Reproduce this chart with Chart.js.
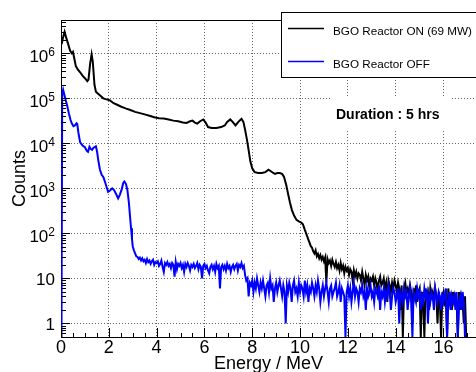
<!DOCTYPE html>
<html>
<head>
<meta charset="utf-8">
<script src="https://cdn.jsdelivr.net/npm/chart.js@4.4.0/dist/chart.umd.min.js"></script>
<style>
  html, body { margin: 0; padding: 0; background: #fff; }
</style>
</head>
<body>
<canvas id="spectrum" width="476" height="372"></canvas>
<script>
// histogram bin width used for the noisy tails
const binWidth = 0.05

// BGO Reactor ON (69 MW) - smooth part
const onEnergy = [0.03, 0.08, 0.15, 0.22, 0.30, 0.38, 0.45, 0.50, 0.55, 0.62, 0.70, 0.80, 0.90, 1.00, 1.10, 1.15, 1.22, 1.28, 1.33, 1.40, 1.46,
  1.60, 1.77, 1.90, 2.05, 2.20, 2.35, 2.50, 2.70, 2.90, 3.10, 3.30, 3.50, 3.70, 3.90, 4.10, 4.30, 4.50, 4.70, 4.90, 5.10, 5.25,
  5.40, 5.50, 5.60, 5.70, 5.82, 5.95, 6.05, 6.15, 6.30, 6.50, 6.70, 6.85, 6.95, 7.08, 7.18, 7.30, 7.42, 7.55, 7.63, 7.70, 7.78,
  7.85, 7.92, 8.00, 8.10, 8.25, 8.40, 8.55, 8.68, 8.78, 8.88, 8.95, 9.05, 9.15, 9.25, 9.33, 9.42, 9.50, 9.58, 9.66, 9.75, 9.85,
  9.95, 10.05, 10.12, 10.20, 10.28, 10.36, 10.45]
const onCounts = [1.6e6, 2.2e6, 3.0e6, 2.2e6, 1.6e6, 1.15e6, 1.0e6, 1.08e6, 8e5, 5.2e5, 4.4e5, 3.8e5, 3.2e5, 2.8e5, 2.4e5, 2.6e5, 6e5, 9.5e5, 6.5e5, 2e5, 1.4e5,
  1.2e5, 1.0e5, 9.5e4, 9e4, 7.8e4, 7.2e4, 6.6e4, 6.0e4, 5.5e4, 5.0e4, 4.7e4, 4.4e4, 4.1e4, 3.8e4, 3.6e4, 3.55e4, 3.4e4, 3.2e4, 3.1e4, 2.9e4, 2.85e4,
  3.1e4, 3.2e4, 2.9e4, 2.75e4, 3.1e4, 3.4e4, 2.9e4, 2.3e4, 2.2e4, 2.2e4, 2.3e4, 2.5e4, 3.0e4, 3.4e4, 3.0e4, 2.5e4, 3.0e4, 3.5e4, 3.0e4, 2.0e4, 1.2e4,
  7e3, 4e3, 2.8e3, 2.3e3, 2.2e3, 2.2e3, 2.3e3, 2.6e3, 2.4e3, 2.2e3, 2.1e3, 2.2e3, 2.2e3, 2.1e3, 1.8e3, 1.2e3, 750, 480, 330, 250, 200,
  185, 175, 160, 120, 92, 70, 52]

// BGO Reactor ON - noisy tail, bins from 10.50 MeV
const onTailStart = 10.5
const onTailCounts = [
  48, 40, 36, 42, 31, 35, 28, 33, 26, 30,
  24, 29, 8, 27, 22, 25, 19, 26, 21, 18,
  23, 17, 20, 15, 22, 16, 19, 13, 18, 15,
  17, 12, 16, 14, 9, 15, 11, 14, 10, 13,
  12, 9, 14, 10, 7, 12, 9, 11, 6, 10,
  9, 11, 7, 10, 8, 5, 9, 11, 7, 8,
  10, 6, 8, 3, 9, 7, 5, 8, 6, 9,
  7, 5, 8, 6, 2, 7, 0, 6, 8, 5,
  6, 4, 7, 5, 1, 6, 4, 7, 3, 5,
  6, 0, 5, 3, 0, 6, 4, 5, 2, 6,
  4, 5, 3, 6, 4, 1, 5, 3, 0, 4,
  5, 3, 4, 0, 6, 3, 4, 2, 5, 3,
  4, 3, 0, 5, 2, 4, 3, 1, 4, 0]

// BGO Reactor OFF - smooth part
const offEnergy = [0.02, 0.05, 0.09, 0.14, 0.20, 0.25, 0.33, 0.40, 0.45, 0.52, 0.58, 0.65, 0.68, 0.73, 0.80, 0.90, 1.00, 1.08, 1.13, 1.19,
  1.24, 1.30, 1.36, 1.46, 1.51, 1.56, 1.63, 1.70, 1.77, 1.84, 1.90, 1.97, 2.05, 2.14, 2.22, 2.30, 2.39, 2.46, 2.54, 2.60,
  2.65, 2.72, 2.78, 2.84, 2.89, 2.93, 2.97]
const offCounts = [0, 1.2e5, 1.55e5, 1.2e5, 9e4, 7.2e4, 4.6e4, 3.3e4, 2.8e4, 2.4e4, 2.5e4, 2.8e4, 2.7e4, 1.7e4, 1.05e4, 9e3, 8.2e3, 6.8e3, 6.5e3, 8.4e3,
  7.6e3, 7.2e3, 8.0e3, 8.6e3, 6.5e3, 4.2e3, 2.6e3, 2.0e3, 1.8e3, 1.4e3, 1.1e3, 840, 900, 1000, 920, 760, 600, 720, 950, 1300,
  1420, 1250, 900, 480, 230, 130, 75]

// BGO Reactor OFF - noisy tail, bins from 3.00 MeV
const offTailStart = 3.0
const offTailCounts = [
  52, 42, 36, 31, 30, 27, 29, 25, 28, 24,
  26, 22, 27, 23, 25, 21, 24, 26, 20, 23, 22,
  24, 19, 21, 25, 18, 14, 22, 20, 23, 19,
  21, 17, 22, 20, 11, 23, 16, 21, 19, 22,
  17, 20, 14, 21, 18, 22, 19, 15, 20, 18,
  21, 17, 19, 22, 16, 20, 18, 10, 19, 21,
  17, 19, 15, 13, 18, 20, 16, 19, 14, 21,
  17, 19, 6, 18, 20, 16, 19, 15, 21, 17,
  19, 14, 18, 20, 16, 19, 21, 15, 20, 18,
  22, 17, 19, 12, 9, 10, 4, 8,
  7, 9, 5, 8, 6, 10, 7, 5, 8, 6,
  9, 6, 4, 7, 8, 5, 10, 6, 7, 3,
  6, 8, 5, 7, 9, 6, 4, 7, 5, 1,
  7, 5, 8, 6, 3, 7, 9, 5, 6, 4,
  8, 5, 7, 6, 4, 9, 5, 7, 3, 6,
  5, 8, 6, 4, 7, 5, 9, 6, 3, 5,
  7, 4, 6, 8, 5, 3, 6, 7, 4, 5,
  6, 8, 4, 5, 7, 3, 6, 5, 4, 0,
  5, 7, 4, 6, 3, 5, 8, 4, 6, 5,
  3, 6, 5, 7, 4, 5, 2, 6, 4, 5,
  7, 4, 5, 3, 6, 5, 4, 7, 2, 5,
  4, 6, 3, 5, 4, 7, 5, 2, 4, 6,
  5, 3, 4, 6, 1, 5, 4, 3, 6, 4,
  5, 2, 4, 6, 3, 0, 5, 4, 3, 6,
  4, 5, 2, 4, 3, 6, 4, 5, 1, 4,
  3, 5, 4, 2, 6, 4, 3, 5, 4, 2,
  5, 3, 4, 6, 0, 3, 5, 2, 4, 3,
  4, 2, 5, 0, 3, 4, 2, 5, 3, 0]

const xTicks = [0, 2, 4, 6, 8, 10, 12, 14, 16]
const yTicks = [1, 10, 100, 1e3, 1e4, 1e5, 1e6]
const yTickLabels = ['1', '10', '10^2', '10^3', '10^4', '10^5', '10^6']

const xMin = 0
const xMax = 17.36
const yMin = 0.5
const yMax = 5.5e6

// zero-count bins sit on the bottom of the frame, like ROOT draws them
const toPoints = (energies, counts, tailStart, tailCounts) => [
  ...energies.map((e, i) => ({ x: e, y: counts[i] || yMin })),
  ...tailCounts.map((c, i) => ({ x: +(tailStart + i * binWidth).toFixed(2), y: c || yMin }))
]

const fontFamily = '"Liberation Sans", Arial, Helvetica, sans-serif'
Chart.defaults.font.family = fontFamily
Chart.defaults.color = '#000'

const rootFrame = {
  id: 'rootFrame',
  afterDraw(chart) {
    const { ctx, chartArea: area, scales: { x, y } } = chart
    ctx.save()
    ctx.strokeStyle = '#000'
    ctx.lineWidth = 1
    ctx.beginPath()
    ctx.moveTo(area.left, area.top + 0.5)
    ctx.lineTo(area.right, area.top + 0.5)
    // x ticks, inside the frame
    for (let i = 0; i * 0.5 <= xMax; i++) {
      const px = Math.round(x.getPixelForValue(i * 0.5)) + 0.5
      ctx.moveTo(px, area.bottom)
      ctx.lineTo(px, area.bottom - (i % 4 === 0 ? 9 : 4))
    }
    // y log ticks
    for (let decade = 0.1; decade < yMax; decade *= 10) {
      for (let k = 1; k < 10; k++) {
        const v = k * decade
        if (v < yMin || v > yMax) continue
        const py = Math.round(y.getPixelForValue(v)) + 0.5
        ctx.moveTo(area.left, py)
        ctx.lineTo(area.left + (k === 1 ? 9 : 5), py)
      }
    }
    ctx.stroke()

    // y tick labels with real superscripts
    ctx.fillStyle = '#000'
    ctx.textBaseline = 'alphabetic'
    ctx.textAlign = 'left'
    yTicks.forEach((v, i) => {
      const py = y.getPixelForValue(v)
      const [base, sup] = yTickLabels[i].split('^')
      ctx.font = `17px ${fontFamily}`
      const baseW = ctx.measureText(base).width
      let supW = 0
      if (sup) {
        ctx.font = `12px ${fontFamily}`
        supW = ctx.measureText(sup).width
      }
      const right = area.left - 6
      const baseY = py + (sup ? 9 : 7)
      ctx.font = `17px ${fontFamily}`
      ctx.fillText(base, right - supW - baseW, baseY)
      if (sup) {
        ctx.font = `12px ${fontFamily}`
        ctx.fillText(sup, right - supW, baseY - 6)
      }
    })

    // "Duration" pave
    ctx.fillStyle = '#fff'
    ctx.fillRect(330, 98, 122, 33)
    ctx.fillStyle = '#000'
    ctx.font = `bold 14px ${fontFamily}`
    ctx.textBaseline = 'middle'
    ctx.fillText('Duration : 5 hrs', 336, 115)

    // legend box
    ctx.fillStyle = '#fff'
    ctx.fillRect(281, 12, 200, 66)
    ctx.strokeStyle = '#000'
    ctx.strokeRect(281.5, 12.5, 200, 65)
    ctx.lineWidth = 1.5
    ctx.beginPath()
    ctx.moveTo(288, 28.5)
    ctx.lineTo(324, 28.5)
    ctx.stroke()
    ctx.beginPath()
    ctx.strokeStyle = '#0000ff'
    ctx.moveTo(288, 61.5)
    ctx.lineTo(324, 61.5)
    ctx.stroke()
    ctx.fillStyle = '#000'
    ctx.font = `11.7px ${fontFamily}`
    ctx.fillText('BGO Reactor ON (69 MW)', 333, 31.5)
    ctx.fillText('BGO Reactor OFF', 333, 64.5)
    ctx.restore()
  }
}

const chartCanvas = document.getElementById('spectrum')

new Chart(chartCanvas, {
  type: 'line',
  data: {
    datasets: [
      {
        label: 'BGO Reactor OFF',
        data: toPoints(offEnergy, offCounts, offTailStart, offTailCounts),
        borderColor: '#0000ff',
        borderWidth: 2,
        order: 0
      },
      {
        label: 'BGO Reactor ON (69 MW)',
        data: toPoints(onEnergy, onCounts, onTailStart, onTailCounts),
        borderColor: '#000000',
        borderWidth: 2,
        order: 1
      }
    ]
  },
  options: {
    responsive: false,
    animation: false,
    layout: { padding: { top: 20, left: 0, right: 0, bottom: 0 } },
    elements: {
      point: { radius: 0 },
      line: { tension: 0, fill: false }
    },
    plugins: {
      legend: { display: false },
      tooltip: { enabled: false }
    },
    scales: {
      x: {
        type: 'linear',
        min: xMin,
        max: xMax,
        afterBuildTicks: (scale) => { scale.ticks = xTicks.map(v => ({ value: v })) },
        afterFit: (scale) => { scale.height = 35 },
        ticks: {
          includeBounds: false,
          maxRotation: 0,
          autoSkip: false,
          padding: 0,
          font: { size: 18 },
          callback: (value) => String(value)
        },
        grid: { color: '#666', lineWidth: 1, drawTicks: false },
        border: { display: true, color: '#000', width: 1, dash: [1, 2] },
        title: {
          display: true,
          text: 'Energy / MeV',
          font: { size: 18, lineHeight: 1 },
          padding: { top: 0, bottom: -1 }
        }
      },
      y: {
        type: 'logarithmic',
        min: yMin,
        max: yMax,
        afterBuildTicks: (scale) => { scale.ticks = yTicks.map(v => ({ value: v })) },
        afterFit: (scale) => { scale.width = 61 },
        ticks: { display: false },
        grid: { color: '#666', lineWidth: 1, drawTicks: false },
        border: { display: true, color: '#000', width: 1, dash: [1, 2] },
        title: {
          display: true,
          text: 'Counts',
          font: { size: 18 },
          padding: { top: 9, bottom: 0 }
        }
      }
    }
  },
  plugins: [rootFrame]
})
</script>
</body>
</html>
